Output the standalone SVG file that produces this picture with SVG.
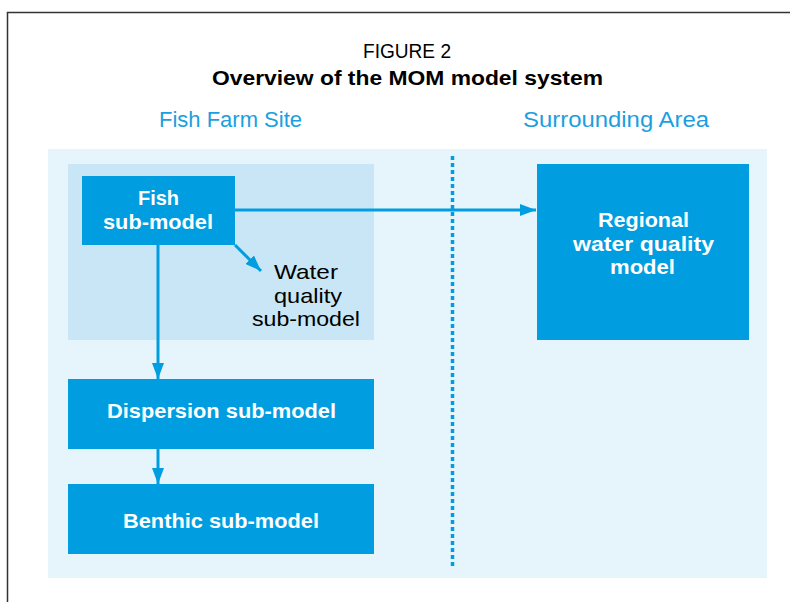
<svg xmlns="http://www.w3.org/2000/svg" width="790" height="602" viewBox="0 0 790 602">
<style>
.box{fill:#009ee0}
.wt{fill:#ffffff;font-family:"Liberation Sans",Arial,sans-serif;font-weight:bold;font-size:21px;text-anchor:middle}
.bt{fill:#000000;font-family:"Liberation Sans",Arial,sans-serif;font-size:21px;text-anchor:middle}
.sec{fill:#1aa0e0;font-family:"Liberation Sans",Arial,sans-serif;font-size:22px;text-anchor:middle}
.conn{stroke:#009ee0;stroke-width:3;fill:none}
</style>
<defs>
<marker id="ah" markerWidth="16" markerHeight="12" refX="16" refY="6" orient="auto" markerUnits="userSpaceOnUse">
<path d="M0,0 L16,6 L0,12 Z" fill="#009ee0"/>
</marker>
</defs>
<rect x="0" y="0" width="790" height="602" fill="#ffffff"/>
<path d="M7.5,602 L7.5,12.5 L790,12.5" fill="none" stroke="#333333" stroke-width="1.5"/>
<text x="407" y="58" font-family="Liberation Sans, Arial, sans-serif" font-size="20" text-anchor="middle" fill="#000" textLength="88" lengthAdjust="spacingAndGlyphs">FIGURE 2</text>
<text x="407.5" y="85" font-family="Liberation Sans, Arial, sans-serif" font-size="21" font-weight="bold" text-anchor="middle" fill="#000" textLength="391" lengthAdjust="spacingAndGlyphs">Overview of the MOM model system</text>
<text class="sec" x="230.5" y="127" textLength="143" lengthAdjust="spacingAndGlyphs">Fish Farm Site</text>
<text class="sec" x="616" y="127" textLength="186" lengthAdjust="spacingAndGlyphs">Surrounding Area</text>
<rect id="panel-outer" x="48" y="149" width="719" height="429" fill="#e6f4fb"/>
<g id="fish-farm-site"><rect x="68" y="164" width="306" height="176" fill="#c8e6f6"/></g>
<line x1="452.5" y1="156" x2="452.5" y2="567" stroke="#009ee0" stroke-width="3.5" stroke-dasharray="4 3"/>
<g id="connectors">
<line class="conn" x1="235" y1="210" x2="536" y2="210" marker-end="url(#ah)"/>
<line class="conn" x1="235" y1="245" x2="261" y2="271" marker-end="url(#ah)"/>
<line class="conn" x1="158" y1="245" x2="158" y2="379" marker-end="url(#ah)"/>
<line class="conn" x1="158" y1="449" x2="158" y2="484" marker-end="url(#ah)"/>
</g>
<g id="fish">
<rect class="box" x="82" y="176" width="153" height="69"/>
<text class="wt" x="158.5" y="205" textLength="41" lengthAdjust="spacingAndGlyphs">Fish</text>
<text class="wt" x="158" y="228.5" textLength="110" lengthAdjust="spacingAndGlyphs">sub-model</text>
</g>
<g id="water-quality">
<text class="bt" x="306" y="279" textLength="64" lengthAdjust="spacingAndGlyphs">Water</text>
<text class="bt" x="308" y="302.5" textLength="68" lengthAdjust="spacingAndGlyphs">quality</text>
<text class="bt" x="306" y="326" textLength="108" lengthAdjust="spacingAndGlyphs">sub-model</text>
</g>
<g id="regional">
<rect class="box" x="537" y="164" width="212" height="176"/>
<text class="wt" x="643.5" y="227" textLength="91" lengthAdjust="spacingAndGlyphs">Regional</text>
<text class="wt" x="643.5" y="250.5" textLength="141" lengthAdjust="spacingAndGlyphs">water quality</text>
<text class="wt" x="642.5" y="274" textLength="65" lengthAdjust="spacingAndGlyphs">model</text>
</g>
<g id="dispersion">
<rect class="box" x="68" y="379" width="306" height="70"/>
<text class="wt" x="221.5" y="418" textLength="229" lengthAdjust="spacingAndGlyphs">Dispersion sub-model</text>
</g>
<g id="benthic">
<rect class="box" x="68" y="484" width="306" height="70"/>
<text class="wt" x="221" y="528" textLength="196" lengthAdjust="spacingAndGlyphs">Benthic sub-model</text>
</g>
</svg>
